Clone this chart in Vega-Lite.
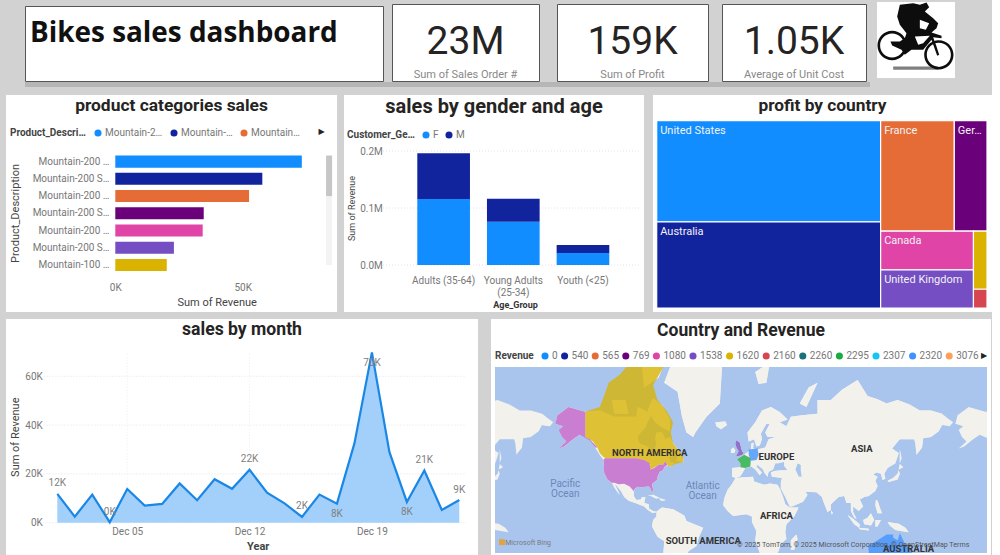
{
"$schema":"https://vega.github.io/schema/vega-lite/v6.json",
"background":"#d2d2d2",
"padding":{"left":6,"top":2,"right":0,"bottom":0},
"spacing":0,
"resolve":{"scale":{"color":"independent"},"legend":{"color":"independent"}},
"config":{"view":{"stroke":null},"font":"Roboto","text":{"font":"Roboto"},"axis":{"grid":false,"domain":false,"ticks":false,"labelFont":"Roboto","titleFont":"Roboto","labelFlush":false,"labelBound":false,"labelOverlap":false},"legend":{"labelFont":"Roboto","titleFont":"Roboto"},"title":{"font":"Roboto","fontWeight":"bold","color":"#252423","anchor":"middle","frame":"group"}},
"datasets":{
"land":[{"type":"Feature","properties":{"name":"land"},"geometry":{"type":"MultiPolygon","coordinates":[
[[[-166,68.5],[-156,71],[-141,69.6],[-128,70],[-115,68],[-108,68],[-95,68],[-94,71],[-85,69.5],[-81,69],[-85,66],[-87,64],[-93,61],[-94,59],[-92,57],[-85,55.5],[-82,53],[-80,51.5],[-79,54],[-77,56.5],[-78,59],[-77,62],[-72,62],[-69,59],[-65,60],[-62,57],[-56,53],[-58,51],[-65,50],[-66,49],[-64.5,48.5],[-65,47],[-61,46],[-64,44],[-67,44.8],[-70,43.5],[-71,41.5],[-74,40.5],[-76,37],[-76,35],[-81,31.5],[-80,27],[-80.5,25],[-82,27],[-83,29.5],[-85,29.7],[-90,29],[-94,29.5],[-97,27.5],[-97.5,22],[-95,18.5],[-91,19],[-90,21],[-87,21],[-88,16],[-84,15],[-83.5,11],[-80,9],[-77.5,8.5],[-78,7.5],[-81,7.5],[-85,10],[-88,13],[-92,14.5],[-96,16],[-102,18],[-106,21],[-109,26],[-112.5,30],[-114.7,31.5],[-112,27],[-110,23],[-112,25],[-115,29],[-117,32.5],[-121,35],[-124,40],[-124.5,48],[-128,51],[-132,55],[-137,59],[-146,61],[-152,59],[-160,55.5],[-165,54.5],[-158,58],[-162,60],[-165,63],[-161,64.5],[-168,65.5],[-166,68.5]]],
[[[-80,73.5],[-72,71.5],[-65,67],[-65,62.5],[-72,64],[-78,66],[-85,70],[-80,73.5]]],
[[[-117,73],[-105,73],[-102,69],[-115,69],[-117,73]]],
[[[-90,80],[-75,83],[-62,82.5],[-75,78],[-88,76],[-90,80]]],
[[[-57,51.5],[-53,49],[-53,46.7],[-59,47.6],[-57,51.5]]],
[[[-55,82],[-30,83.5],[-18,80],[-20,72],[-32,68],[-42,62],[-44,60],[-50,62],[-54,68],[-58,75],[-70,77],[-62,81],[-55,82]]],
[[[-24,66],[-15,66.3],[-13.5,65],[-19,63.4],[-23,64.5],[-24,66]]],
[[[-85,22],[-80,23],[-74,20.2],[-77.5,19.9],[-82,22],[-85,22]]],
[[[-74,20],[-68.5,18.5],[-71.5,18],[-74,18.5],[-74,20]]],
[[[-77,8.5],[-72,12],[-62,10.5],[-52,5],[-50,0],[-44,-2.5],[-35,-6],[-39,-15],[-41,-22],[-48,-26],[-53,-34],[-58,-38],[-65,-42],[-68,-52],[-70,-53],[-74,-45],[-71,-30],[-70,-18],[-76,-14],[-81,-5],[-80,1],[-77,4],[-77,8.5]]],
[[[-6,35.8],[10,37],[11,33.5],[20,31],[25,32],[32,31],[34,28],[37,21],[39,15],[43,12],[51,12],[47,4],[40,-3],[39,-10],[40,-16],[35,-20],[33,-26],[27,-34],[19,-34.5],[15,-25],[12,-17],[13,-9],[9,-1],[9,4],[4,6],[-5,5],[-8,4.5],[-13,9],[-17,14],[-16,20],[-13,27],[-9.5,31],[-6,35.8]]],
[[[5,62],[12,66],[18,70],[26,71],[34,69.5],[41,67],[34,66],[40,64.5],[44,68],[54,68.5],[68,69],[68,73],[80,73],[90,75.5],[104,77.5],[113,74],[130,72],[140,73],[160,70],[170,70],[180,69],[180,65],[177,62.5],[170,60],[163,59.5],[162,55],[157,51],[156,57],[155,59],[142,59],[135,54.5],[141,52],[138,46],[131,43],[128,39],[129,35.5],[126.5,34.5],[125,39],[121,40],[118,38.5],[122,37],[120,34],[122,30],[120,26],[114,22],[110,21],[106,19],[109,13],[105,9],[100,13],[100,8],[103,2],[101,3],[98,9],[98,16],[94,16],[92,22],[87,21],[80,15],[80,10],[77,8],[73,18],[72,21],[67,25],[57,25.5],[59,23],[55,17],[45,13],[43,13],[39,21],[35,28],[35,33],[36,36],[31,36.5],[27,37],[26,40],[29,41],[36,41.5],[41,41.5],[38,44.5],[38,47],[33,46],[30,46],[28,42],[24,40.5],[23,37],[20,40],[19,42],[14,45],[13,44],[18,40],[16,38],[12,42],[8.5,44],[3,43],[0,39],[-2,37],[-5.5,36],[-9,37],[-9,43],[-2,43.5],[-1.5,46],[-4.5,48.5],[2,51],[8,54],[8.5,57],[10.5,57.5],[10,54.5],[14,54],[21,55],[24,59],[30,60],[23,60],[21,62],[25,65.5],[22,65.5],[17,61.5],[18,59],[16,56],[13,55.5],[11,59],[6,58],[5,62]],[[50,46],[48,42],[51,37],[54,37],[53,41],[53,45],[50,46]]],
[[[-180,69],[-175,67.5],[-170,66],[-173,64.5],[-180,65],[-180,69]]],
[[[-5,58.5],[-2,57.5],[0,53],[1.5,52],[0,50.8],[-5.5,50],[-3,53],[-5,55],[-6,57],[-5,58.5]]],
[[[-8,55],[-6,53.5],[-7,52],[-10,52],[-10,54],[-8,55]]],
[[[141,41.5],[142,39],[140,35],[136,34],[132,33],[131,34],[136,36],[140,39],[141,41.5]]],
[[[142,45.5],[145,43.5],[141,42],[142,45.5]]],
[[[142,54],[143.5,49],[142,46],[142,54]]],
[[[120.5,18.5],[122,18],[124,12],[126,7],[122,7],[120,14],[120.5,18.5]]],
[[[116,7],[119,1],[116,-4],[110,-3],[109,1],[113,3],[116,7]]],
[[[95,5.5],[100,2],[106,-3],[105.5,-6],[101,-3],[95,5.5]]],
[[[105,-6],[114,-7],[114,-8.5],[106,-7.5],[105,-6]]],
[[[120,1],[125,1],[122,-5],[120,-5],[120,1]]],
[[[131,-1],[141,-2.5],[147,-6],[150,-10],[143,-9],[138,-8],[133,-4],[131,-1]]],
[[[49,-12],[50,-16],[47,-25],[44,-25],[44,-17],[49,-12]]],
[[[80,9.7],[82,7],[80.5,6],[80,9.7]]],
[[[12,79],[25,80.5],[22,77],[15,76.7],[12,79]]],
[[[52,72],[60,76],[68,77],[58,71],[52,72]]]
]}}],
"countries":[
{"type":"Feature","properties":{"name":"Canada","Revenue":"1620"},"geometry":{"type":"Polygon","coordinates":[[[-141,69.6],[-128,71],[-124,74],[-120,77],[-110,78.5],[-98,81],[-85,83],[-70,83.1],[-62,82.5],[-70,80],[-80,76.5],[-76,73],[-68,70],[-62,66],[-64,62],[-62,57],[-56,53],[-53,50],[-53,46.7],[-60,45.5],[-64,44],[-66.5,44.5],[-67,45.2],[-69,47.3],[-71,45],[-75,45],[-79,43.3],[-83,42],[-82.5,45.5],[-88,48],[-95,49],[-100,49],[-105,49],[-110,49],[-115,49],[-123,49],[-125,50],[-128,52],[-130,55],[-134,58],[-137,59],[-141,60],[-141,65],[-141,69.6]]]}},
{"type":"Feature","properties":{"name":"United States","Revenue":"3240"},"geometry":{"type":"MultiPolygon","coordinates":[[[[-124.5,48.5],[-123,49],[-115,49],[-105,49],[-95,49],[-88,48],[-83,46],[-82.5,42],[-79,43],[-75,45],[-71,45],[-69,47.3],[-67,45],[-70,43.5],[-71,41.5],[-74,40.5],[-76,37],[-76,35],[-81,31.5],[-80,27],[-80.5,25],[-82,27],[-83,29.5],[-85,29.7],[-90,29],[-94,29.5],[-97,27.5],[-97.3,25.9],[-101,29.7],[-106,31.7],[-111,31.3],[-114.7,32.5],[-117,32.5],[-121,35],[-124,40],[-124.5,48.5]]],[[[-166,68.5],[-156,71],[-141,69.6],[-141,60],[-137,59],[-130,55],[-132,55],[-137,58.5],[-146,61],[-152,59],[-160,55.5],[-165,54.5],[-158,58],[-162,60],[-165,63],[-161,64.5],[-168,65.5],[-166,68.5]]]]}},
{"type":"Feature","properties":{"name":"United Kingdom","Revenue":"1538"},"geometry":{"type":"Polygon","coordinates":[[[-5,58.5],[-2,57.5],[0,53],[1.5,52],[0,50.8],[-5.5,50],[-3,53],[-5,55],[-6,57],[-5,58.5]]]}},
{"type":"Feature","properties":{"name":"France","Revenue":"2295"},"geometry":{"type":"Polygon","coordinates":[[[-4.5,48.5],[2,51],[8,49],[7.5,44],[3,43],[-1.5,43.5],[-1.5,46],[-4.5,48.5]]]}},
{"type":"Feature","properties":{"name":"Germany","Revenue":"2320"},"geometry":{"type":"Polygon","coordinates":[[[6,54],[14,54.5],[15,51],[13,48],[8,47.5],[6,51],[6,54]]]}},
{"type":"Feature","properties":{"name":"Australia","Revenue":"2320"},"geometry":{"type":"Polygon","coordinates":[[[113.5,-22],[122,-17],[130,-12],[136,-12],[136,-15],[140,-17],[142,-11],[146,-19],[153,-26],[151,-34],[146,-39],[138,-35],[131,-32],[124,-33],[115,-34],[113.5,-22]]]}}
]
},
"vconcat":[
{"resolve":{"scale":{"color":"independent"},"legend":{"color":"independent"}},"hconcat":[
{"width":18,"height":1,"data":{"values":[{}]},"mark":{"type":"rect","opacity":0},"encoding":{}},
{"vconcat":[{"width":1,"height":4,"data":{"values":[{}]},"mark":{"type":"rect","opacity":0},"encoding":{}},
 {"width":358,"height":75,"view":{"fill":"white","stroke":"#555"},"data":{"values":[{"t":"Bikes sales dashboard"}]},"mark":{"type":"text","align":"left","baseline":"middle","dx":-174,"dy":-9.5,"font":"Open Sans","fontWeight":"bold","fontSize":27.9,"color":"#111"},"encoding":{"text":{"field":"t"}}}],"spacing":0,"bounds":"flush"},
{"width":7,"height":1,"data":{"values":[{}]},"mark":{"type":"rect","opacity":0},"encoding":{}},
{"vconcat":[{"width":1,"height":2,"data":{"values":[{}]},"mark":{"type":"rect","opacity":0},"encoding":{}},
 {"width":147,"height":77,"view":{"fill":"white","stroke":"#555"},"data":{"values":[{"v":"23M","c":"Sum of Sales Order #"}]},"layer":[{"mark":{"type":"text","baseline":"middle","dy":-0.5,"fontSize":39,"color":"#252423"},"encoding":{"text":{"field":"v"}}},{"mark":{"type":"text","baseline":"middle","dy":32.5,"fontSize":11,"color":"#888"},"encoding":{"text":{"field":"c"}}}]}],"spacing":0,"bounds":"flush"},
{"width":16,"height":1,"data":{"values":[{}]},"mark":{"type":"rect","opacity":0},"encoding":{}},
{"vconcat":[{"width":1,"height":2,"data":{"values":[{}]},"mark":{"type":"rect","opacity":0},"encoding":{}},
 {"width":151,"height":77,"view":{"fill":"white","stroke":"#555"},"data":{"values":[{"v":"159K","c":"Sum of  Profit"}]},"layer":[{"mark":{"type":"text","baseline":"middle","dy":-0.5,"fontSize":39,"color":"#252423"},"encoding":{"text":{"field":"v"}}},{"mark":{"type":"text","baseline":"middle","dy":32.5,"fontSize":11,"color":"#888"},"encoding":{"text":{"field":"c"}}}]}],"spacing":0,"bounds":"flush"},
{"width":12,"height":1,"data":{"values":[{}]},"mark":{"type":"rect","opacity":0},"encoding":{}},
{"vconcat":[{"width":1,"height":2,"data":{"values":[{}]},"mark":{"type":"rect","opacity":0},"encoding":{}},
 {"width":144,"height":77,"view":{"fill":"white","stroke":"#555"},"data":{"values":[{"v":"1.05K","c":"Average of  Unit  Cost"}]},"layer":[{"mark":{"type":"text","baseline":"middle","dy":-0.5,"fontSize":39,"color":"#252423"},"encoding":{"text":{"field":"v"}}},{"mark":{"type":"text","baseline":"middle","dy":32.5,"fontSize":11,"color":"#888"},"encoding":{"text":{"field":"c"}}}]}],"spacing":0,"bounds":"flush"},
{"width":10,"height":1,"data":{"values":[{}]},"mark":{"type":"rect","opacity":0},"encoding":{}},
{"width":78,"height":76,"view":{"fill":"white"},"data":{"values":[{"icon":"bike"}]},"layer":[
 {"mark":{"type":"point","filled":true,"opacity":1,"fill":"#7f7f7f","strokeWidth":0,"size":6037,"shape":"M-0.588 0.682 L0.571 0.682 L0.571 0.768 L-0.588 0.768 Z"},"encoding":{}},
 {"mark":{"type":"point","filled":true,"opacity":1,"fill":"#0d0d0d","strokeWidth":0,"size":6037,"shape":"M-0.416 -0.906 L-0.073 -0.948 L0.099 -0.906 L0.27 -0.966 L0.339 -0.845 L0.227 -0.734 L0.442 -0.562 L0.571 -0.433 L0.528 -0.305 L0.399 -0.193 L0.657 -0.107 L0.657 -0.047 L0.442 -0.073 L0.528 0.167 L0.597 0.382 L0.545 0.408 L0.399 -0.004 L0.185 0.253 L-0.116 0.253 L-0.288 0.382 L-0.373 0.253 L-0.614 0.142 L-0.657 0.039 L-0.416 0.039 L-0.288 -0.047 L-0.245 -0.176 L-0.416 -0.391 L-0.485 -0.605 Z M0.099 -0.519 L0.099 -0.305 L0.253 -0.262 L0.339 -0.433 Z M-0.03 -0.09 L0.056 0.124 L0.185 0.082 L0.356 -0.107 Z M-0.992 0.142 A0.378 0.378 0 1 1 -0.236 0.142 A0.378 0.378 0 1 1 -0.992 0.142 Z M-0.924 0.142 A0.31 0.31 0 1 0 -0.304 0.142 A0.31 0.31 0 1 0 -0.924 0.142 Z M0.21 0.382 A0.378 0.378 0 1 1 0.966 0.382 A0.378 0.378 0 1 1 0.21 0.382 Z M0.278 0.382 A0.31 0.31 0 1 0 0.898 0.382 A0.31 0.31 0 1 0 0.278 0.382 Z"},"encoding":{}}
]}
],"spacing":0},
{"hconcat":[
{"width":19,"height":1,"data":{"values":[{}]},"mark":{"type":"rect","opacity":0},"encoding":{}},
{"width":845,"height":5,"view":{"fill":"#b6b6b6"},"data":{"values":[{}]},"mark":{"type":"rect","opacity":0},"encoding":{}}
],"spacing":0,"bounds":"flush"},
{"width":1,"height":8,"data":{"values":[{}]},"mark":{"type":"rect","opacity":0},"encoding":{}},
{"resolve":{"scale":{"color":"independent"},"legend":{"color":"independent"}},"hconcat":[
{"width":331,"height":217,"view":{"fill":"white"},
 "title":{"text":"product categories sales","offset":-19,"fontSize":17.4},
 "data":{"values":[
 {"product":"Mountain-200 Black, 38","revenue":73200},
 {"product":"Mountain-200 Silver, 38","revenue":57700},
 {"product":"Mountain-200 Black, 42","revenue":52500},
 {"product":"Mountain-200 Silver, 42","revenue":34700},
 {"product":"Mountain-200 Black, 46","revenue":34300},
 {"product":"Mountain-200 Silver, 46","revenue":23000},
 {"product":"Mountain-100 Black, 38","revenue":20200}]},
 "layer":[
 {"data":{"values":[{"from":"Mountain-200 Black, 38","to":"Mountain-100 Black, 38"}]},"mark":{"type":"rule","strokeWidth":6,"color":"#f3f3f3"},"encoding":{"x":{"datum":83900,"type":"quantitative"},"y":{"field":"from","type":"nominal","bandPosition":0},"y2":{"field":"to"}}},
 {"data":{"values":[{"from":"Mountain-200 Black, 38","to":"Mountain-200 Black, 42"}]},"mark":{"type":"rule","strokeWidth":6,"color":"#c6c6c6"},"encoding":{"x":{"datum":83900,"type":"quantitative"},"y":{"field":"from","type":"nominal","bandPosition":0},"y2":{"field":"to"}}},
 {"mark":"bar","encoding":{
  "y":{"field":"product","type":"nominal","sort":null,"scale":{"domain":["Mountain-200 Black, 38","Mountain-200 Silver, 38","Mountain-200 Black, 42","Mountain-200 Silver, 42","Mountain-200 Black, 46","Mountain-200 Silver, 46","Mountain-100 Black, 38"],"range":[58,178.6],"paddingInner":0.3,"paddingOuter":0.15},"axis":{"orient":"left","offset":-103,"labelPadding":0,"labelLimit":90,"labelExpr":"slice(datum.label,0,13)+(indexof(datum.label,'Silver')>=0?'S…':'…')","labelFontSize":10,"labelColor":"#777","title":"Product_Description","titleColor":"#444","titleFontSize":11,"titleFontWeight":"normal","titleX":-93.3,"titleY":118,"titleAngle":-90,"titleAlign":"center","titleBaseline":"middle"}},
  "x":{"field":"revenue","type":"quantitative","scale":{"domain":[0,75000],"range":[109.3,300.4],"nice":false},"axis":{"orient":"bottom","offset":-32,"labelPadding":2,"values":[0,50000],"labelExpr":"format(datum.value/1000,'d')+'K'","labelFontSize":10,"labelColor":"#777","title":"Sum of Revenue","titleColor":"#444","titleFontSize":11,"titleFontWeight":"normal","titleX":210.7,"titleY":22,"titleBaseline":"middle"}},
  "color":{"field":"product","type":"nominal","sort":null,"scale":{"domain":["Mountain-200 Black, 38","Mountain-200 Silver, 38","Mountain-200 Black, 42","Mountain-200 Silver, 42","Mountain-200 Black, 46","Mountain-200 Silver, 46","Mountain-100 Black, 38"],"range":["#118DFF","#12239E","#E66C37","#6B007B","#E044A7","#744EC2","#D9B300"]},"legend":{"orient":"none","legendX":4,"legendY":33,"direction":"horizontal","columns":3,"title":"Product_Description","titleOrient":"left","titleLimit":78,"titleFontSize":10,"titleFontWeight":"bold","titleColor":"#444","titlePadding":7,"values":["Mountain-200 Black, 38","Mountain-200 Silver, 38","Mountain-200 Black, 42"],"symbolType":"circle","symbolSize":50,"symbolStrokeWidth":0,"labelFontSize":10,"labelColor":"#777","labelLimit":70,"labelExpr":"datum.label=='Mountain-200 Black, 38'?'Mountain-2…':datum.label=='Mountain-200 Silver, 38'?'Mountain-…':'Mountain…'","gridAlign":"none","labelOffset":2,"columnPadding":6}}
 }},
 {"data":{"values":[{"a":"▶"}]},"mark":{"type":"text","dx":150,"dy":-71.5,"fontSize":8,"font":"DejaVu Sans","color":"#252423","baseline":"middle"},"encoding":{"text":{"field":"a"}}}
 ]},
{"width":7,"height":1,"data":{"values":[{}]},"mark":{"type":"rect","opacity":0},"encoding":{}},
{"width":300,"height":217,"view":{"fill":"white"},
 "title":{"text":"sales by gender and age","offset":-22,"fontSize":20},
 "data":{"values":[
 {"age":"Adults (35-64)","gender":"F","revenue":115800},
 {"age":"Adults (35-64)","gender":"M","revenue":80200},
 {"age":"Young Adults (25-34)","gender":"F","revenue":76000},
 {"age":"Young Adults (25-34)","gender":"M","revenue":40300},
 {"age":"Youth (<25)","gender":"F","revenue":21000},
 {"age":"Youth (<25)","gender":"M","revenue":14000}]},
 "resolve":{"scale":{"x":"independent"},"axis":{"x":"independent"}},
 "layer":[
 {"data":{"values":[{"v":0,"a":0,"b":1},{"v":100000,"a":0,"b":1},{"v":200000,"a":0,"b":1}]},"mark":{"type":"rule","color":"#e4e4e4","strokeDash":[1,2],"strokeWidth":1},"encoding":{"y":{"field":"v","type":"quantitative"},"x":{"field":"a","type":"quantitative","scale":{"domain":[0,1],"range":[39,296],"nice":false,"zero":false},"axis":null},"x2":{"field":"b"}}},
 {"mark":"bar","encoding":{
  "x":{"field":"age","type":"nominal","sort":null,"scale":{"range":[64.8,273.8],"paddingInner":0.244,"paddingOuter":0.122},"axis":{"orient":"bottom","offset":-39,"labelPadding":2,"labelAngle":0,"labelFontSize":10,"labelColor":"#777","labelLimit":90,"labelExpr":"datum.label=='Young Adults (25-34)'?['Young Adults','(25-34)']:datum.label","title":"Age_Group","titleColor":"#333","titleFontSize":9,"titleFontWeight":"bold","titleX":171,"titleY":31,"titleBaseline":"middle"}},
  "y":{"field":"revenue","type":"quantitative","stack":"zero","scale":{"domain":[0,200000],"range":[170,56],"nice":false},"axis":{"orient":"left","offset":-38.3,"labelPadding":0,"values":[0,100000,200000],"labelExpr":"format(datum.value/1000000,'.1f')+'M'","labelFontSize":10,"labelColor":"#777","title":"Sum of Revenue","titleColor":"#444","titleFontSize":9,"titleFontWeight":"normal","titleX":-30.6,"titleY":113,"titleAngle":-90,"titleAlign":"center","titleBaseline":"middle"}},
  "order":{"field":"gender","sort":"ascending"},
  "color":{"field":"gender","type":"nominal","scale":{"domain":["F","M"],"range":["#118DFF","#12239E"]},"legend":{"orient":"none","legendX":3,"legendY":35,"direction":"horizontal","columns":2,"title":"Customer_Gender","titleOrient":"left","titleLimit":72,"titleFontSize":10,"titleFontWeight":"bold","titleColor":"#444","titlePadding":6,"symbolType":"circle","symbolSize":50,"symbolStrokeWidth":0,"labelFontSize":10,"labelColor":"#777","labelOffset":2,"columnPadding":5}}
 }}
 ]},
{"width":9,"height":1,"data":{"values":[{}]},"mark":{"type":"rect","opacity":0},"encoding":{}},
{"width":339,"height":217,"view":{"fill":"white"},
 "title":{"text":"profit by country","offset":-19,"fontSize":17.3},
 "data":{"values":[
 {"country":"United States","label":"United States","x0":0,"x1":67.8,"y0":0,"y1":54},
 {"country":"Australia","label":"Australia","x0":0,"x1":67.8,"y0":54,"y1":100},
 {"country":"France","label":"France","x0":67.8,"x1":90.1,"y0":0,"y1":59},
 {"country":"Germany","label":"Ger…","x0":90.1,"x1":100,"y0":0,"y1":59},
 {"country":"Canada","label":"Canada","x0":67.8,"x1":95.9,"y0":59,"y1":79.6},
 {"country":"United Kingdom","label":"United Kingdom","x0":67.8,"x1":95.9,"y0":79.6,"y1":100},
 {"country":"Tile 7","label":"","x0":95.9,"x1":100,"y0":59,"y1":90},
 {"country":"Tile 8","label":"","x0":95.9,"x1":100,"y0":90,"y1":100}]},
 "layer":[
 {"mark":{"type":"rect","stroke":"white","strokeWidth":1.2},"encoding":{
  "x":{"field":"x0","type":"quantitative","scale":{"domain":[0,100],"range":[3.7,334],"nice":false},"axis":null},"x2":{"field":"x1"},
  "y":{"field":"y0","type":"quantitative","scale":{"domain":[0,100],"range":[25.7,213],"nice":false},"axis":null},"y2":{"field":"y1"},
  "color":{"field":"country","type":"nominal","sort":null,"scale":{"domain":["United States","Australia","France","Germany","Canada","United Kingdom","Tile 7","Tile 8"],"range":["#118DFF","#12239E","#E66C37","#6B007B","#E044A7","#744EC2","#D9B300","#D64550"]},"legend":null}}},
 {"mark":{"type":"text","align":"left","baseline":"top","dx":3.5,"dy":4,"fontSize":11,"color":"#f2f2f2"},"encoding":{
  "x":{"field":"x0","type":"quantitative"},"y":{"field":"y0","type":"quantitative"},"text":{"field":"label"}}}
 ]}
],"spacing":0,"bounds":"flush"},
{"width":1,"height":7,"data":{"values":[{}]},"mark":{"type":"rect","opacity":0},"encoding":{}},
{"resolve":{"scale":{"color":"independent"},"legend":{"color":"independent"}},"hconcat":[
{"width":472,"height":236,"view":{"fill":"white"},
 "title":{"text":"sales by month","offset":-20,"fontSize":17.6},
 "data":{"values":[
 {"d":"2016-12-01T00:00:00","r":11800,"above":"12K"},{"d":"2016-12-02T00:00:00","r":2500},{"d":"2016-12-03T00:00:00","r":11500},{"d":"2016-12-04T00:00:00","r":200,"above":"0K"},{"d":"2016-12-05T00:00:00","r":13800},{"d":"2016-12-06T00:00:00","r":7000},{"d":"2016-12-07T00:00:00","r":7700},{"d":"2016-12-08T00:00:00","r":16100},{"d":"2016-12-09T00:00:00","r":9200},{"d":"2016-12-10T00:00:00","r":17800},{"d":"2016-12-11T00:00:00","r":13900},{"d":"2016-12-12T00:00:00","r":21700,"above":"22K"},{"d":"2016-12-13T00:00:00","r":12300},{"d":"2016-12-14T00:00:00","r":7900},{"d":"2016-12-15T00:00:00","r":2400,"above":"2K"},{"d":"2016-12-16T00:00:00","r":11500},{"d":"2016-12-17T00:00:00","r":7800,"below":"8K"},{"d":"2016-12-18T00:00:00","r":32500},{"d":"2016-12-19T00:00:00","r":69800,"below":"70K"},{"d":"2016-12-20T00:00:00","r":29000},{"d":"2016-12-21T00:00:00","r":8500,"below":"8K"},{"d":"2016-12-22T00:00:00","r":21400,"above":"21K"},{"d":"2016-12-23T00:00:00","r":5200},{"d":"2016-12-24T00:00:00","r":9300,"above":"9K"}]},
 "layer":[
 {"data":{"values":[{"v":0,"a":"2016-11-30T05:00:00","b":"2016-12-24T08:00:00"},{"v":20000,"a":"2016-11-30T05:00:00","b":"2016-12-24T08:00:00"},{"v":40000,"a":"2016-11-30T05:00:00","b":"2016-12-24T08:00:00"},{"v":60000,"a":"2016-11-30T05:00:00","b":"2016-12-24T08:00:00"}]},"mark":{"type":"rule","color":"#e2e2e2","strokeDash":[1,2]},"encoding":{"y":{"field":"v","type":"quantitative"},"x":{"field":"a","type":"temporal"},"x2":{"field":"b"}}},
 {"data":{"values":[{"d":"2016-12-05T00:00:00","a":0,"b":70000},{"d":"2016-12-12T00:00:00","a":0,"b":70000},{"d":"2016-12-19T00:00:00","a":0,"b":70000}]},"mark":{"type":"rule","color":"#ececec","strokeDash":[1,2]},"encoding":{"x":{"field":"d","type":"temporal"},"y":{"field":"a","type":"quantitative"},"y2":{"field":"b"}}},
 {"mark":{"type":"area","color":"#a3d0fb"},"encoding":{
  "x":{"field":"d","type":"temporal","scale":{"domain":[{"year":2016,"month":"dec","date":1},{"year":2016,"month":"dec","date":24}],"range":[51.3,453.3],"nice":false},"axis":{"orient":"bottom","offset":-30.5,"labelPadding":2,"values":[{"year":2016,"month":"dec","date":5},{"year":2016,"month":"dec","date":12},{"year":2016,"month":"dec","date":19}],"format":"%b %d","labelFontSize":10,"labelColor":"#777","title":"Year","titleColor":"#444","titleFontSize":11,"titleFontWeight":"bold","titleX":251.7,"titleY":22,"titleBaseline":"middle"}},
  "y":{"field":"r","type":"quantitative","scale":{"domain":[0,70000],"range":[203.7,32.9],"nice":false},"axis":{"orient":"left","offset":-36.3,"labelPadding":0,"values":[0,20000,40000,60000],"labelExpr":"format(datum.value/1000,'d')+'K'","labelFontSize":10,"labelColor":"#777","title":"Sum of Revenue","titleColor":"#444","titleFontSize":11,"titleFontWeight":"normal","titleX":-26.6,"titleY":117.7,"titleAngle":-90,"titleAlign":"center","titleBaseline":"middle"}}}},
 {"mark":{"type":"line","color":"#1a87e6","strokeWidth":2.2},"encoding":{"x":{"field":"d","type":"temporal"},"y":{"field":"r","type":"quantitative"}}},
 {"transform":[{"filter":"datum.above"}],"mark":{"type":"text","dy":-10.5,"baseline":"middle","fontSize":10,"color":"#808080"},"encoding":{"x":{"field":"d","type":"temporal"},"y":{"field":"r","type":"quantitative"},"text":{"field":"above"}}},
 {"transform":[{"filter":"datum.below"}],"mark":{"type":"text","dy":10.5,"baseline":"middle","fontSize":10,"color":"#808080"},"encoding":{"x":{"field":"d","type":"temporal"},"y":{"field":"r","type":"quantitative"},"text":{"field":"below"}}}
 ]},
{"width":13,"height":1,"data":{"values":[{}]},"mark":{"type":"rect","opacity":0},"encoding":{}},
{"width":500,"height":236,"view":{"fill":"white"},
 "title":{"text":"Country and Revenue","offset":-20,"fontSize":17.5},
 "layer":[
 {"data":{"sphere":true},"projection":{"type":"mercator","scale":63.7,"translate":[251,202],"clipExtent":[[4,48],[496,234]]},"mark":{"type":"geoshape","fill":"#a9c5ee","strokeWidth":0},"encoding":{}},
 {"data":{"sphere":true},"projection":{"type":"mercator","scale":63.7,"rotate":[180,0,0],"translate":[451,202],"clipExtent":[[4,48],[496,234]]},"mark":{"type":"geoshape","fill":"#a9c5ee","strokeWidth":0},"encoding":{}},
 {"data":{"sphere":true},"projection":{"type":"mercator","scale":63.7,"rotate":[180,0,0],"translate":[51,202],"clipExtent":[[4,48],[496,234]]},"mark":{"type":"geoshape","fill":"#a9c5ee","strokeWidth":0},"encoding":{}},
 {"data":{"name":"land"},"projection":{"type":"mercator","scale":63.7,"translate":[251,202],"clipExtent":[[4,48],[496,234]]},"mark":{"type":"geoshape","fill":"#f2f1ec","strokeWidth":0},"encoding":{}},
 {"data":{"name":"land"},"projection":{"type":"mercator","scale":63.7,"rotate":[180,0,0],"translate":[451,202],"clipExtent":[[4,48],[496,234]]},"mark":{"type":"geoshape","fill":"#f2f1ec","strokeWidth":0},"encoding":{}},
 {"data":{"name":"land"},"projection":{"type":"mercator","scale":63.7,"rotate":[180,0,0],"translate":[51,202],"clipExtent":[[4,48],[496,234]]},"mark":{"type":"geoshape","fill":"#f2f1ec","strokeWidth":0},"encoding":{}},
 {"data":{"name":"countries"},"projection":{"type":"mercator","scale":63.7,"translate":[251,202],"clipExtent":[[4,48],[496,234]]},"mark":{"type":"geoshape","opacity":0.78,"strokeWidth":0},"encoding":{"color":{"field":"properties.Revenue","type":"nominal","scale":{"domain":["0","540","565","769","1080","1538","1620","2160","2260","2295","2307","2320","3076","3240"],"range":["#118DFF","#12239E","#E66C37","#6B007B","#E044A7","#744EC2","#D9B300","#D64550","#197278","#1AAB40","#15C6F4","#4092FF","#FFA058","#BE5DC9"]},"legend":{"orient":"none","legendX":4,"legendY":32,"direction":"horizontal","columns":13,"title":"Revenue","titleOrient":"left","titleFontSize":10,"titleFontWeight":"bold","titleColor":"#444","titlePadding":6,"values":["0","540","565","769","1080","1538","1620","2160","2260","2295","2307","2320","3076"],"gridAlign":"each","symbolType":"circle","symbolSize":50,"symbolOpacity":1,"symbolStrokeWidth":0,"labelFontSize":10,"labelColor":"#777","labelOffset":2,"columnPadding":1.6}}}},
 {"data":{"values":[{"n":"NORTH AMERICA","lon":-83,"lat":52.2},{"n":"EUROPE","lon":31,"lat":49.8},{"n":"ASIA","lon":107.8,"lat":54},{"n":"AFRICA","lon":31,"lat":4.5},{"n":"SOUTH AMERICA","lon":-34.9,"lat":-17.8},{"n":"AUSTRALIA","lon":149.8,"lat":-24.2}]},"projection":{"type":"mercator","scale":63.7,"translate":[251,202],"clipExtent":[[4,48],[496,234]]},"mark":{"type":"text","fontSize":9.5,"fontWeight":"bold","color":"#333","baseline":"middle"},"encoding":{"longitude":{"field":"lon","type":"quantitative"},"latitude":{"field":"lat","type":"quantitative"},"text":{"field":"n"}}},
 {"data":{"values":[{"n":"Pacific","lon":-159,"lat":31.8},{"n":"Ocean","lon":-159,"lat":23.9},{"n":"Atlantic","lon":-35.4,"lat":30},{"n":"Ocean","lon":-35.4,"lat":21.8}]},"projection":{"type":"mercator","scale":63.7,"translate":[251,202],"clipExtent":[[4,48],[496,234]]},"mark":{"type":"text","fontSize":10,"color":"#6f86b8","baseline":"middle"},"encoding":{"longitude":{"field":"lon","type":"quantitative"},"latitude":{"field":"lat","type":"quantitative"},"text":{"field":"n"}}},
 {"data":{"values":[{"n":"© 2025 TomTom, © 2025 Microsoft Corporation, © OpenStreetMap   Terms","lon":100,"lat":-21.2}]},"projection":{"type":"mercator","scale":63.7,"translate":[251,202],"clipExtent":[[4,48],[496,234]]},"mark":{"type":"text","fontSize":7.1,"color":"#555","baseline":"middle"},"encoding":{"longitude":{"field":"lon","type":"quantitative"},"latitude":{"field":"lat","type":"quantitative"},"text":{"field":"n"}}},
 {"data":{"values":[{"n":"Microsoft Bing","lon":167.5,"lat":-19.4}]},"projection":{"type":"mercator","scale":63.7,"rotate":[180,0,0],"translate":[51,202],"clipExtent":[[4,48],[496,234]]},"mark":{"type":"text","fontSize":7,"color":"#7a7a7a","baseline":"middle"},"encoding":{"longitude":{"field":"lon","type":"quantitative"},"latitude":{"field":"lat","type":"quantitative"},"text":{"field":"n"}}},
 {"data":{"values":[{"lon":144,"lat":-18.7}]},"projection":{"type":"mercator","scale":63.7,"rotate":[180,0,0],"translate":[51,202],"clipExtent":[[4,48],[496,234]]},"mark":{"type":"point","shape":"square","filled":true,"opacity":1,"size":35,"fill":"#e3a33f","strokeWidth":0},"encoding":{"longitude":{"field":"lon","type":"quantitative"},"latitude":{"field":"lat","type":"quantitative"}}},
 {"data":{"values":[{"a":"▶"}]},"mark":{"type":"text","dx":243,"dy":-81,"fontSize":8,"font":"DejaVu Sans","color":"#252423","baseline":"middle"},"encoding":{"text":{"field":"a"}}}
 ]}
],"spacing":0,"bounds":"flush"}
]}
